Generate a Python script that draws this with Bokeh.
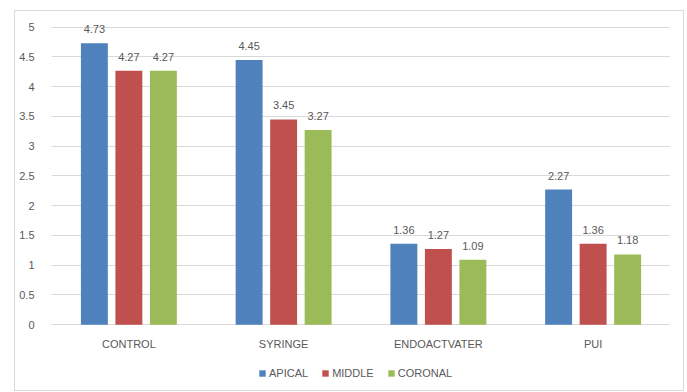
from bokeh.plotting import figure
from bokeh.models import ColumnDataSource, FactorRange, Range1d, FixedTicker, Legend, LegendItem, LabelSet
from bokeh.core.properties import value
from bokeh.transform import dodge
from bokeh.embed import file_html
from bokeh.resources import INLINE

groups = ["CONTROL", "SYRINGE", "ENDOACTVATER", "PUI"]
series = ["APICAL", "MIDDLE", "CORONAL"]
apical = [4.73, 4.45, 1.36, 2.27]
middle = [4.27, 3.45, 1.27, 1.36]
coronal = [4.27, 3.27, 1.09, 1.18]
colors = ["#4F81BD", "#C0504D", "#9BBB59"]
yticks = [0, 0.5, 1, 1.5, 2, 2.5, 3, 3.5, 4, 4.5, 5]
ytick_labels = ["0", "0.5", "1", "1.5", "2", "2.5", "3", "3.5", "4", "4.5", "5"]

FONT = "Liberation Sans"
TXT = "#595959"
FS = "11px"

# the plot frame is extended above 5 and below zero so that the data labels,
# the category labels and the legend sit inside it; the y axis only shows ticks 0..5
p = figure(width=670, height=381, x_range=FactorRange(*groups), y_range=Range1d(-1.14, 5.247),
           output_backend="svg", toolbar_location=None,
           min_border_left=36, min_border_right=15, min_border_top=1, min_border_bottom=0,
           margin=(10, 0, 0, 14), styles={"border": "1px solid #d9d9d9"})
p.outline_line_color = None
p.background_fill_color = "white"
p.border_fill_color = "white"

values = [apical, middle, coronal]
offsets = [-0.223, 0.0, 0.223]
items = []
for name, vals, col, off in zip(series, values, colors, offsets):
    src = ColumnDataSource(dict(g=groups, v=vals, t=[f"{x:.2f}" for x in vals]))
    r = p.vbar(x=dodge("g", off, range=p.x_range), top="v", width=0.174, source=src,
               fill_color=col, line_color=None)
    items.append(LegendItem(label=name, renderers=[r]))
    lbl = LabelSet(x=dodge("g", off, range=p.x_range), y="v", text="t", source=src,
                   text_align="center", text_baseline="bottom", y_offset=10,
                   text_font=value(FONT), text_font_size=value(FS), text_color=TXT)
    p.add_layout(lbl)

# category labels under the baseline
cat_src = ColumnDataSource(dict(g=groups))
cats = LabelSet(x="g", y=0, text="g", source=cat_src, text_align="center",
                text_baseline="middle", y_offset=-19,
                text_font=value(FONT), text_font_size=value(FS), text_color=TXT)
p.add_layout(cats)

p.yaxis.ticker = FixedTicker(ticks=yticks)
p.yaxis.major_label_overrides = {t: l for t, l in zip(yticks, ytick_labels)}
p.yaxis.axis_line_color = None
p.yaxis.major_tick_line_color = None
p.yaxis.minor_tick_line_color = None
p.yaxis.major_label_text_font = FONT
p.yaxis.major_label_text_font_size = FS
p.yaxis.major_label_text_color = TXT
p.yaxis.major_label_standoff = 11

p.xaxis.visible = False
p.xgrid.grid_line_color = None
p.ygrid.grid_line_color = "#d9d9d9"
p.ygrid.grid_line_width = 1

legend = Legend(items=items, orientation="horizontal", location=(207, 13),
                label_text_font=FONT, label_text_font_size=FS, label_text_color=TXT,
                glyph_width=8, glyph_height=8, label_height=12, spacing=13, label_standoff=3,
                border_line_color=None, background_fill_alpha=0, padding=0, margin=0)
p.add_layout(legend)

open("out.html", "w").write(file_html(p, INLINE))
